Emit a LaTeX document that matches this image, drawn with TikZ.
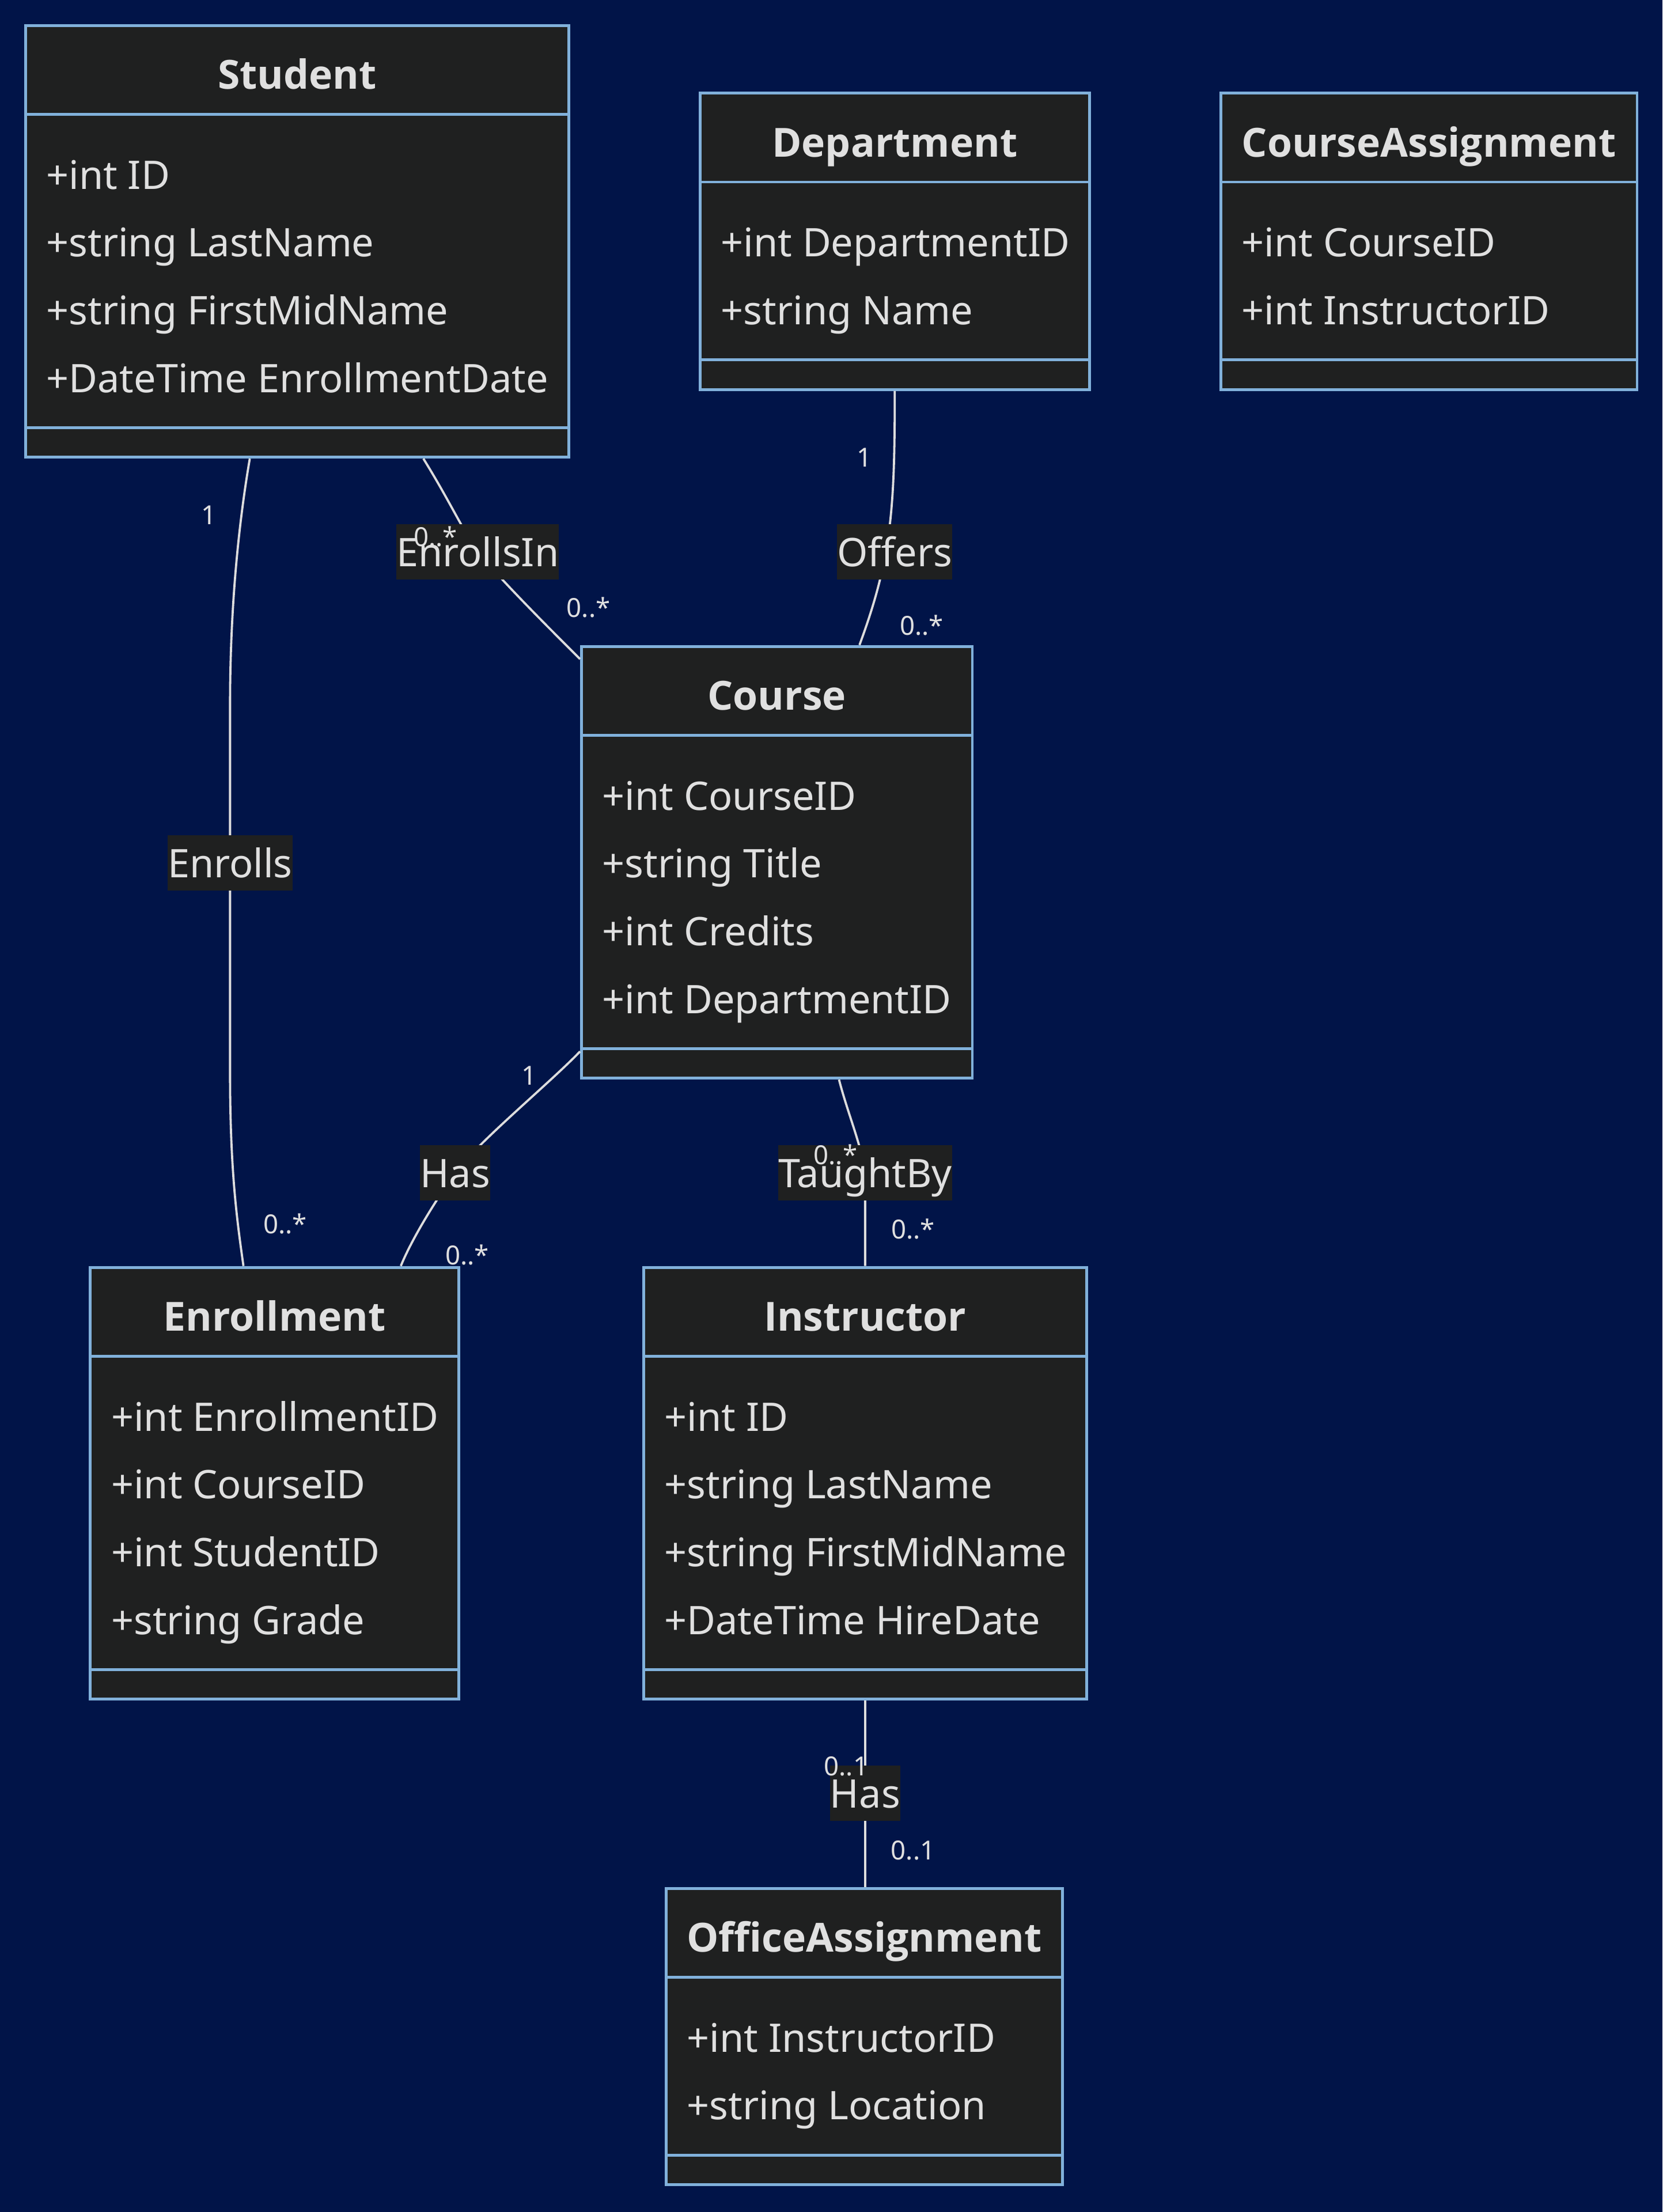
\documentclass[tikz,border=0pt]{standalone}
\usepackage{fontspec}
\setmainfont{Noto Sans}
\newfontfamily\titlefont{Open Sans}
\usetikzlibrary{fit,calc}
\definecolor{bgc}{RGB}{1,20,72}
\definecolor{boxfill}{HTML}{1F2020}
\definecolor{boxline}{HTML}{81B1DB}
\definecolor{txt}{HTML}{E0E0E0}
\definecolor{edgec}{HTML}{DDDDDD}
\newcommand\umlclass[7]{%
  \pgfmathsetmacro\yb{#3+114+48*#5}%
  \pgfmathsetmacro\yh{#3+63}%
  \pgfmathsetmacro\ys{#3+93+48*#5}%
  \pgfmathsetmacro\xc{(#2+#4)/2}%
  \node[classbox, fit={(#2,#3) (#4,\yb)}] (#1) {};
  \draw[sepline] (#1.west |- 0,\yh) -- (#1.east |- 0,\yh);
  \draw[sepline] (#1.west |- 0,\ys) -- (#1.east |- 0,\ys);
  \node[titletext] (#1-title) at (\xc,#3+45.2) {#6};
  \foreach \a [count=\i] in {#7} {
    \node[attrtext] (#1-attr\i) at (#2+14.5,\yh+5+48*\i) {\a};
  }
}
\begin{document}
\begin{tikzpicture}[x=0.6125pt,y=-0.6125pt,
  classbox/.style={draw=boxline, fill=boxfill, line width=1.2pt, inner sep=0pt},
  sepline/.style={draw=boxline, line width=1.2pt},
  titletext/.style={text=txt, font=\titlefont\fontsize{17.4}{20}\selectfont\bfseries, anchor=base, inner sep=0pt},
  attrtext/.style={text=txt, font=\fontsize{17.1}{20}\selectfont, anchor=base west, inner sep=0pt},
  rel/.style={draw=edgec, line width=0.95pt},
  rellabel/.style={fill=boxfill, text=txt, font=\fontsize{17.1}{20}\selectfont, inner xsep=0pt, inner ysep=0pt, text height=18.4pt, text depth=5.5pt},
  mult/.style={text=txt, font=\fontsize{11.4}{13}\selectfont, inner sep=0pt}
]
\fill[bgc] (0,0) rectangle (1178,1567.35);
\useasboundingbox (0,0) rectangle (1178,1567.35);

\umlclass{student}{18}{18}{403}{4}{Student}{+int ID, +string LastName, +string FirstMidName, +DateTime EnrollmentDate}
\umlclass{department}{496}{66}{772}{2}{Department}{+int DepartmentID, +string Name}
\umlclass{courseassignment}{865}{66}{1160}{2}{CourseAssignment}{+int CourseID, +int InstructorID}
\umlclass{course}{412}{458}{689}{4}{Course}{+int CourseID, +string Title, +int Credits, +int DepartmentID}
\umlclass{enrollment}{64}{898}{325}{4}{Enrollment}{+int EnrollmentID, +int CourseID, +int StudentID, +string Grade}
\umlclass{instructor}{456}{898}{770}{4}{Instructor}{+int ID, +string LastName, +string FirstMidName, +DateTime HireDate}
\umlclass{office}{472}{1338}{753}{2}{OfficeAssignment}{+int InstructorID, +string Location}

\coordinate (lbl-enrolls) at (163,611.5);
\coordinate (lbl-enrollsin) at (338.5,391);
\coordinate (lbl-offers) at (634,391);
\coordinate (lbl-has1) at (322.5,831);
\coordinate (lbl-taughtby) at (613,831);
\coordinate (lbl-has2) at (613,1270.5);

% connectors
\draw[rel] (student.south -| 177,0) .. controls (171,360) and (163,420) .. (163,500) -- (lbl-enrolls) -- (163,760) .. controls (163,830) and (168,865) .. (enrollment.north -| 172.5,0);
\draw[rel] (student.south -| 300,0) .. controls (318,354) and (327,374) .. (lbl-enrollsin) .. controls (356,412) and (386,442) .. (course.west |- 0,467);
\draw[rel] (department.south) .. controls (634,360) and (632,395) .. (course.north -| 609,0);
\draw[rel] (course.west |- 0,745) .. controls (390,767) and (340,808) .. (lbl-has1) .. controls (305,856) and (291,880) .. (enrollment.north -| 284,0);
\draw[rel] (course.south -| 594.5,0) .. controls (601,790) and (610,810) .. (lbl-taughtby) -- (instructor.north -| lbl-taughtby);
\draw[rel] (instructor.south) -- (lbl-has2) -- (office.north -| instructor.south);

% relation labels
\node[rellabel] (enrolls) at (lbl-enrolls) {Enrolls};
\node[rellabel] (enrollsin) at (lbl-enrollsin) {EnrollsIn};
\node[rellabel] (offers) at (lbl-offers) {Offers};
\node[rellabel] (has1) at (lbl-has1) {Has};
\node[rellabel] (taughtby) at (lbl-taughtby) {TaughtBy};
\node[rellabel] (has2) at (lbl-has2) {Has};

% multiplicities
\node[mult] (m-se1) at (148,365) {1};
\node[mult] (m-se2) at (202,867) {0..*};
\node[mult] (m-sc1) at (308.5,380) {0..*};
\node[mult] (m-sc2) at (417,430.5) {0..*};
\node[mult] (m-dc1) at (612.5,324) {1};
\node[mult] (m-dc2) at (653,443) {0..*};
\node[mult] (m-ce1) at (375,762) {1};
\node[mult] (m-ce2) at (331,889) {0..*};
\node[mult] (m-ci1) at (592,818) {0..*};
\node[mult] (m-ci2) at (647,871) {0..*};
\node[mult] (m-io1) at (599.5,1251.5) {0..1};
\node[mult] (m-io2) at (647,1311) {0..1};
\end{tikzpicture}
\end{document}
